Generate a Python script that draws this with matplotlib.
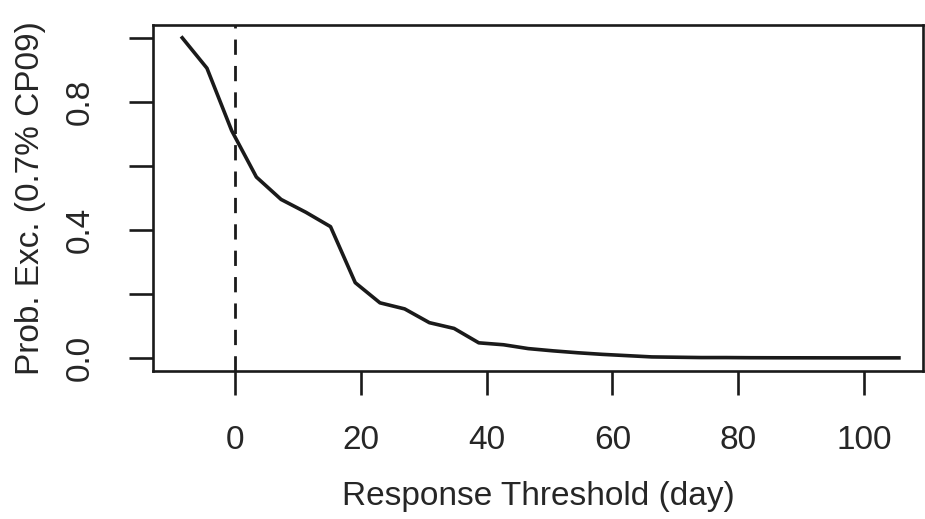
import numpy as np
import matplotlib
matplotlib.use("Agg")
import matplotlib.pyplot as plt

plt.rcParams['font.family'] = ['Liberation Sans', 'DejaVu Sans']

# response threshold (days) and probability of exceedance
threshold = [-8.40, -4.47, -0.54, 3.39, 7.32, 11.25, 15.18, 19.11, 23.04, 26.97,
             30.90, 34.83, 38.76, 42.69, 46.62, 50.55, 54.48, 58.41, 62.34, 66.27,
             70.20, 74.13, 78.06, 81.99, 85.92, 89.85, 93.78, 97.71, 101.64, 105.57]
prob_exc = [1.000, 0.905, 0.710, 0.565, 0.495, 0.455, 0.410, 0.235, 0.172, 0.153,
            0.110, 0.092, 0.047, 0.041, 0.029, 0.022, 0.016, 0.011, 0.007, 0.003,
            0.002, 0.001, 0.001, 0.0005, 0.0003, 0.0002, 0.0001, 0.0, 0.0, 0.0]

xticks = [0, 20, 40, 60, 80, 100]
yticks = [0.0, 0.2, 0.4, 0.6, 0.8, 1.0]
ytick_labels = ['0.0', '', '0.4', '', '0.8', '']

ink = '#1a1a1a'
txt = '#262626'

fig = plt.figure(figsize=(9.25, 5.19), dpi=100)
ax = fig.add_axes([153/925, 1 - 371/519, (923 - 153)/925, (371 - 25)/519])

ax.plot(threshold, prob_exc, color=ink, lw=2.6, solid_joinstyle='round')
ax.axvline(0, color=ink, lw=2.0, linestyle=(0, (5.5, 4.0)))

ax.set_xlim(-13.05, 109.4)
ax.set_ylim(-0.041, 1.04)

ax.set_xticks(xticks)
ax.set_yticks(yticks)
ax.set_yticklabels(ytick_labels, rotation=90, va='center')

for s in ax.spines.values():
    s.set_linewidth(1.9)
    s.set_color(ink)
ax.tick_params(axis='both', length=17, width=1.9, color=ink,
               labelsize=24, labelcolor=txt)
ax.tick_params(axis='x', pad=22)
ax.tick_params(axis='y', pad=24)

ax.set_xlabel('Response Threshold (day)', fontsize=24, color=txt, labelpad=18)
ax.set_ylabel('Prob. Exc. (0.7% CP09)', fontsize=24, color=txt, labelpad=14)

fig.savefig('out.png', dpi=100)
